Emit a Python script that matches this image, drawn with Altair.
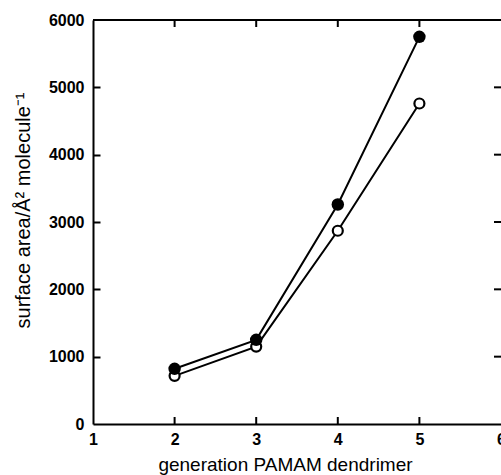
import altair as alt
import pandas as pd

# ---- data ----
generations = [2, 3, 4, 5]
filled_vals = [820, 1250, 3260, 5750]   # filled circles
open_vals = [715, 1150, 2870, 4760]     # open circles
x_tick_labels = [1, 2, 3, 4, 5, 6]
y_tick_labels = [0, 1000, 2000, 3000, 4000, 5000, 6000]
inner_x_ticks = [2, 3, 4, 5]
inner_y_ticks = [1000, 2000, 3000, 4000, 5000]

FONT = "Liberation Sans"
W, H = 408, 404

df = pd.DataFrame({
    "gen": generations + generations,
    "area": filled_vals + open_vals,
    "series": ["filled"] * len(generations) + ["open"] * len(generations),
})
df_filled = df[df.series == "filled"]
df_open = df[df.series == "open"]
df_xt = pd.DataFrame({"tx": inner_x_ticks})
df_yt = pd.DataFrame({"ty": inner_y_ticks})

xscale = alt.Scale(domain=[1, 6], nice=False, zero=False)
yscale = alt.Scale(domain=[0, 6000], nice=False)

x_axis = alt.Axis(
    values=x_tick_labels, format="d", ticks=False, grid=False,
    domainWidth=2, domainColor="black",
    labelFont=FONT, labelFontWeight="bold", labelFontSize=16, labelColor="black",
    labelPadding=7, labelFlush=False, labelOverlap=False,
    title="generation PAMAM dendrimer", titleFont=FONT, titleFontSize=19,
    titleFontWeight="normal", titleColor="black",
    titleX=192, titleY=46, titleBaseline="alphabetic", titleAlign="center",
)
y_axis = alt.Axis(
    values=y_tick_labels, format="d", ticks=False, grid=False,
    domainWidth=2, domainColor="black",
    labelFont=FONT, labelFontWeight="bold", labelFontSize=16, labelColor="black",
    labelPadding=9, labelFlush=False, labelOverlap=False,
    title="surface area/Å² molecule⁻¹", titleFont=FONT, titleFontSize=20,
    titleFontWeight="normal", titleColor="black",
    titleX=-70, titleY=190, titleAlign="center", titleBaseline="middle",
)
# inward ticks along the left edge: a right-oriented axis moved onto the left edge
y_axis_inner = alt.Axis(
    orient="right", offset=-W, values=inner_y_ticks, labels=False, domain=False,
    ticks=True, tickSize=7, tickWidth=2, tickColor="black", grid=False, title=None,
)

X = alt.X("gen:Q", scale=xscale, axis=x_axis)
Y = alt.Y("area:Q", scale=yscale, axis=y_axis)

lines = alt.Chart(df).mark_line(color="black", strokeWidth=2).encode(
    x=X, y=Y, detail="series:N"
)
pts_filled = alt.Chart(df_filled).mark_point(
    shape="circle", filled=True, color="black", size=155, opacity=1
).encode(x="gen:Q", y="area:Q")
pts_open = alt.Chart(df_open).mark_point(
    shape="circle", filled=True, fill="white", stroke="black", strokeWidth=2.2,
    size=100, opacity=1
).encode(x="gen:Q", y="area:Q")

top_line = alt.Chart(df_xt).mark_rule(color="black", strokeWidth=2).encode(
    y=alt.datum(6000)
)

TL = 7  # inward tick length in pixels
ticks_bottom = alt.Chart(df_xt).mark_rule(color="black", strokeWidth=2, y2Offset=-TL).encode(
    x="tx:Q", y=alt.datum(0), y2=alt.datum(0)
)
ticks_top = alt.Chart(df_xt).mark_rule(color="black", strokeWidth=2).encode(
    x="tx:Q", y=alt.value(0), y2=alt.value(TL)
)
ticks_right = alt.Chart(df_yt).mark_rule(color="black", strokeWidth=2, x2Offset=-TL).encode(
    x=alt.datum(6), x2=alt.datum(6), y=alt.Y("ty:Q", scale=yscale, axis=y_axis_inner)
)

chart = alt.layer(
    lines, pts_open, pts_filled, top_line,
    ticks_bottom, ticks_top, ticks_right,
).resolve_axis(y="independent").properties(
    width=W, height=H,
    autosize=alt.AutoSizeParams(type="none"),
    padding={"left": 93, "top": 20, "right": 0, "bottom": 51},
    background="white",
).configure_view(stroke=None)

chart.save("out.html", embed_options={"renderer": "svg", "actions": False})
